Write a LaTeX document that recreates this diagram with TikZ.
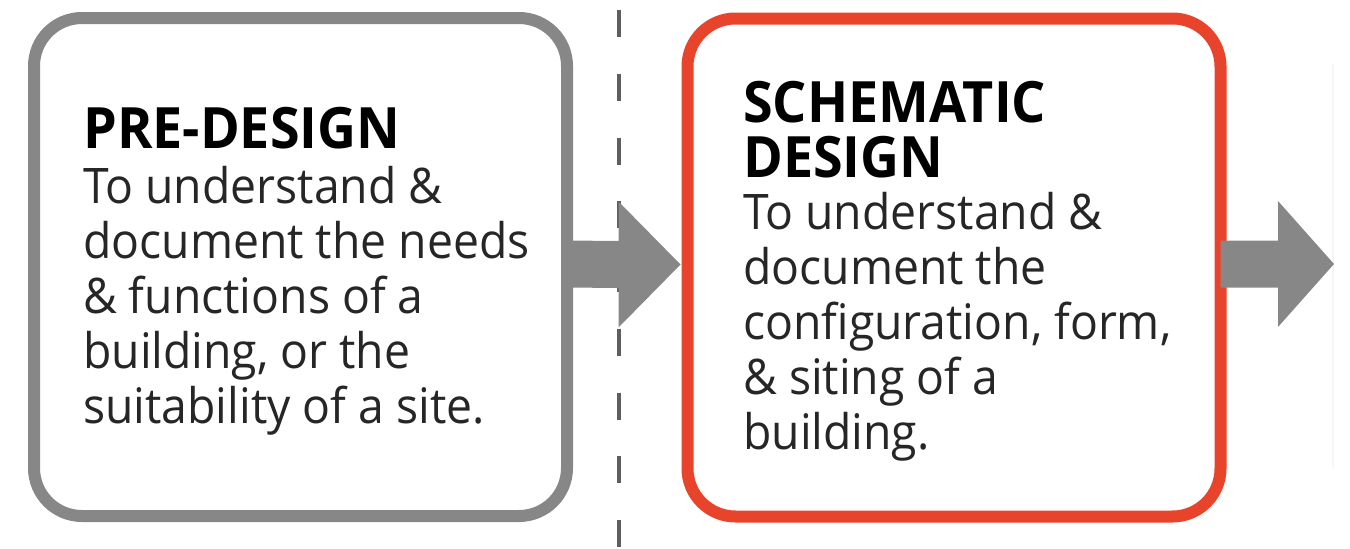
\documentclass[tikz,border=0pt]{standalone}
\usepackage{fontspec}
\setmainfont{Open Sans}[FakeStretch=0.945]
\usepackage{xcolor}
\usepackage{tikz}
\usetikzlibrary{calc}

\definecolor{boxgray}{HTML}{878787}
\definecolor{stagered}{HTML}{E8442C}
\definecolor{dashgray}{HTML}{5E5E5E}

% block arrow: start, tip, head length
\newcommand{\blockarrow}[3]{%
  \fill[boxgray] ($(#1)+(0,-23.5)$) -- ($(#2)+(-#3,-23.5)$) -- ($(#2)+(-#3,-63)$)
    -- (#2) -- ($(#2)+(-#3,63)$) -- ($(#2)+(-#3,23.5)$) -- ($(#1)+(0,23.5)$) -- cycle;}

\begin{document}
\begin{tikzpicture}[x=1pt,y=-1pt,
            stagebox/.style = {rectangle, rounded corners=48pt,
                        line width=12pt, fill=white,
                        minimum width=533pt, minimum height=498pt},
            stagetext/.style = {anchor=base west, inner sep=0pt,
                        font=\fontsize{49}{55}\selectfont, text=black!85}]
            \useasboundingbox (0,0) rectangle (1350,549);
            % Phase divider
            \draw[dashgray, line width=3.5pt, dash pattern=on 27pt off 36.75pt] (619,10) -- (619,549);
            % Edge of next stage
            \draw[gray!7, line width=2pt] (1333,64) -- (1333,468);
            % Pre-design
            \node[stagebox, draw=boxgray] (pre) at (300.5,267) {};
            % Schematic design
            \node[stagebox, draw=stagered] (schem) at (954,267.5) {};
            % Arrows
            \coordinate (startA) at ($(pre.east)+(-6,-3)$);
            \coordinate (tipA) at ($(schem.west)+(-1,-3)$);
            \coordinate (startB) at ($(schem.east)+(-6,-3.5)$);
            \coordinate (nextstage) at (1334,264);
            \blockarrow{startA}{tipA}{62}
            \blockarrow{startB}{nextstage}{56}
            % Stage texts
            \node[stagetext] (pretext) at (83,148) {\begin{tabular}[t]{@{}l@{}}
                {\fontsize{57}{55}\selectfont\bfseries\color{black} PRE-DESIGN}\\
                To understand \&\\
                document the needs\\
                \& functions of a\\
                building, or the\\
                suitability of a site.
            \end{tabular}};
            \node[stagetext] (schemtext) at (743,122) {\begin{tabular}[t]{@{}l@{}}
                {\fontsize{57}{55}\selectfont\bfseries\color{black} SCHEMATIC}\\[-2pt]
                {\fontsize{57}{55}\selectfont\bfseries\color{black} DESIGN}\\[-3pt]
                To understand \&\\
                document the\\
                configuration, form,\\
                \& siting of a\\
                building.
            \end{tabular}};
        \end{tikzpicture}
\end{document}
